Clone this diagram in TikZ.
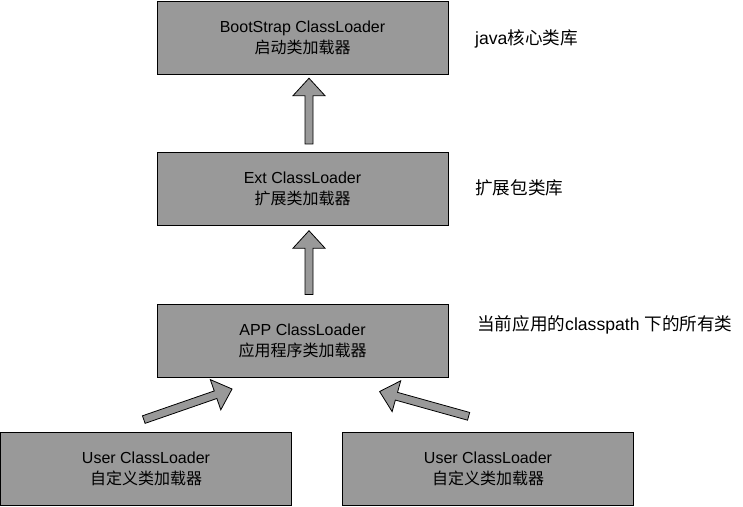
\documentclass[tikz,border=0pt]{standalone}
\usepackage{fontspec}
\setmainfont{Liberation Sans}
\newfontfamily\cjk{Noto Sans CJK SC}
\usetikzlibrary{calc,shapes.arrows}
\definecolor{boxgray}{HTML}{999999}
\tikzset{
    loaderbox/.style={draw, thick, fill=boxgray, minimum width=291pt, minimum height=73pt,
        inner sep=0pt, align=center, font=\fontsize{16}{21}\selectfont},
    notetext/.style={anchor=west, inner sep=0pt, font=\fontsize{17.6}{21}\selectfont},
    blockarrow/.style={single arrow, draw, thick, fill=boxgray, inner xsep=0pt, inner ysep=3.6pt,
        single arrow head extend=12pt, single arrow tip angle=85}
}
\begin{document}
\begin{tikzpicture}[x=1pt, y=-1pt]
    \useasboundingbox (0,0) rectangle (743,506);
    % class loaders
    \node[loaderbox] at (302.5,37.5) (bootstrap) {BootStrap ClassLoader\\{\cjk 启动类加载器}};
    \node[loaderbox] at (302.5,189) (ext) {Ext ClassLoader\\{\cjk 扩展类加载器}};
    \node[loaderbox] at (302.5,340.5) (app) {APP ClassLoader\\{\cjk 应用程序类加载器}};
    \node[loaderbox] at (146,468.5) (userA) {User ClassLoader\\{\cjk 自定义类加载器}};
    \node[loaderbox] at (488,468.5) (userB) {User ClassLoader\\{\cjk 自定义类加载器}};
    % notes
    \node[notetext] at (475,39) (bootnote) {java{\cjk 核心类库}};
    \node[notetext] at (475,188) (extnote) {{\cjk 扩展包类库}};
    \node[notetext] at (477,325) (appnote) {{\cjk 当前应用的}classpath {\cjk 下的所有类}};
    % arrow ends
    \coordinate (t1) at ($(ext.north)+(6.5,-6)$);
    \coordinate (h1) at ($(bootstrap.south)+(6.5,6)$);
    \coordinate (t2) at ($(app.north)+(6.5,-7)$);
    \coordinate (h2) at ($(ext.south)+(6.5,7)$);
    \coordinate (t3) at ($(userA.north)+(-4.3,-11.3)$);
    \coordinate (h3) at ($(app.south)+(-72.5,12.3)$);
    \coordinate (t4) at ($(userB.north)+(-17.3,-14.7)$);
    \coordinate (h4) at ($(app.south)+(79.2,14.7)$);
    \foreach \t/\h in {t1/h1, t2/h2, t3/h3, t4/h4}
        \path let \p1=($(\h)-(\t)$), \n1={veclen(\x1,\y1)}, \n2={atan2(\y1,\x1)} in
            (\t) -- (\h) node[midway, blockarrow, minimum height=\n1, rotate=\n2] {};
\end{tikzpicture}
\end{document}
